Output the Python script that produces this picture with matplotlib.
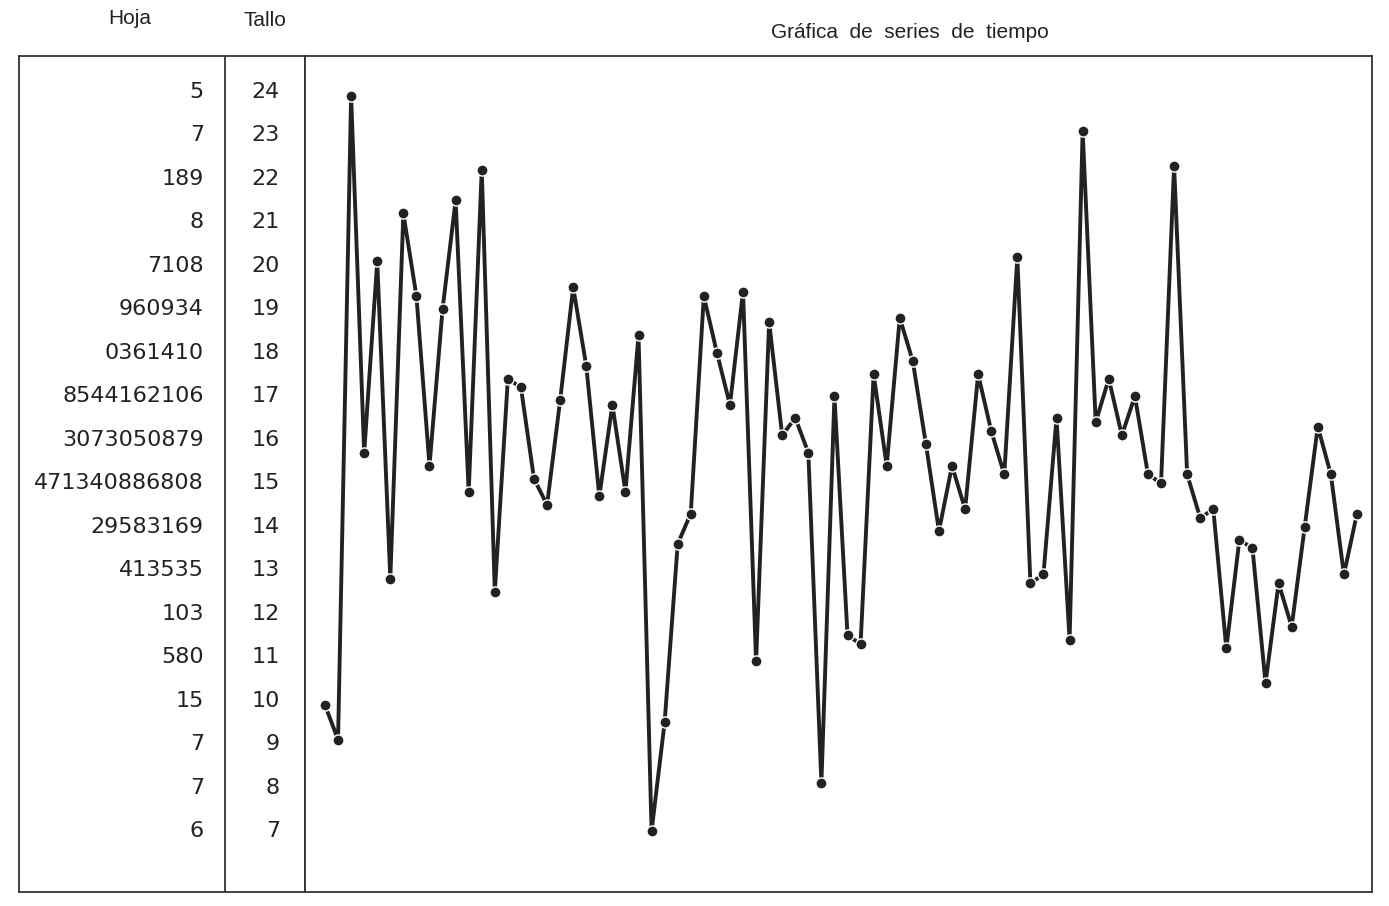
import matplotlib.pyplot as plt

# tallos y hojas tal como aparecen en la tabla
tallos = [24, 23, 22, 21, 20, 19, 18, 17, 16, 15, 14, 13, 12, 11, 10, 9, 8, 7]
hojas = ["5", "7", "189", "8", "7108", "960934", "0361410", "8544162106",
         "3073050879", "471340886808", "29583169", "413535", "103", "580",
         "15", "7", "7", "6"]

# serie de tiempo (80 observaciones)
serie = [10.5, 9.7, 24.5, 16.3, 20.7, 13.4, 21.8, 19.9, 16.0, 19.6,
         22.1, 15.4, 22.8, 13.1, 18.0, 17.8, 15.7, 15.1, 17.5, 20.1,
         18.3, 15.3, 17.4, 15.4, 19.0, 7.6, 10.1, 14.2, 14.9, 19.9,
         18.6, 17.4, 20.0, 11.5, 19.3, 16.7, 17.1, 16.3, 8.7, 17.6,
         12.1, 11.9, 18.1, 16.0, 19.4, 18.4, 16.5, 14.5, 16.0, 15.0,
         18.1, 16.8, 15.8, 20.8, 13.3, 13.5, 17.1, 12.0, 23.7, 17.0,
         18.0, 16.7, 17.6, 15.8, 15.6, 22.9, 15.8, 14.8, 15.0, 11.8,
         14.3, 14.1, 11.0, 13.3, 12.3, 14.6, 16.9, 15.8, 13.5, 14.9]
t = list(range(1, len(serie) + 1))

W, H = 1389, 906
fig = plt.figure(figsize=(W / 100, H / 100), dpi=100)


def caja(l, r, top, bot):
    return [l / W, 1 - bot / H, (r - l) / W, (bot - top) / H]


tinta = '#222222'
borde = '#333333'

ax_t = fig.add_axes(caja(19, 305, 56, 892))
ax = fig.add_axes(caja(305, 1372, 56, 892), sharey=ax_t)

# grafica de la serie
ax.plot(t, serie, color=tinta, lw=2.8, marker='o', ms=8,
        mfc=tinta, mec='white', mew=1.0, solid_joinstyle='miter')
ax.set_xlim(-0.53, 81.15)
ax.set_ylim(6.2, 25.42)

# diagrama de tallo y hojas
ax_t.set_xlim(19, 305)
ax_t.axvline(225, color=borde, lw=1.3)
for s, h in zip(tallos, hojas):
    ax_t.text(204, s + 0.6, h, ha='right', va='center', fontsize=16,
              color=tinta, family='DejaVu Sans')
    ax_t.text(280, s + 0.6, str(s), ha='right', va='center', fontsize=16,
              color=tinta, family='DejaVu Sans')

for a in (ax, ax_t):
    a.tick_params(left=False, bottom=False, labelleft=False, labelbottom=False)
    for sp in a.spines.values():
        sp.set_color(borde)
        sp.set_linewidth(1.3)

fig.text(130 / W, 1 - 18 / H, "Hoja", ha='center', va='center',
         fontsize=15, color=tinta, family='Liberation Sans')
fig.text(265 / W, 1 - 20 / H, "Tallo", ha='center', va='center',
         fontsize=15, color=tinta, family='Liberation Sans')
fig.text(910 / W, 1 - 33 / H, "Gráfica  de  series  de  tiempo", ha='center',
         va='center', fontsize=15, color=tinta, family='Liberation Sans')

fig.savefig('out.png', dpi=100, facecolor='white')
